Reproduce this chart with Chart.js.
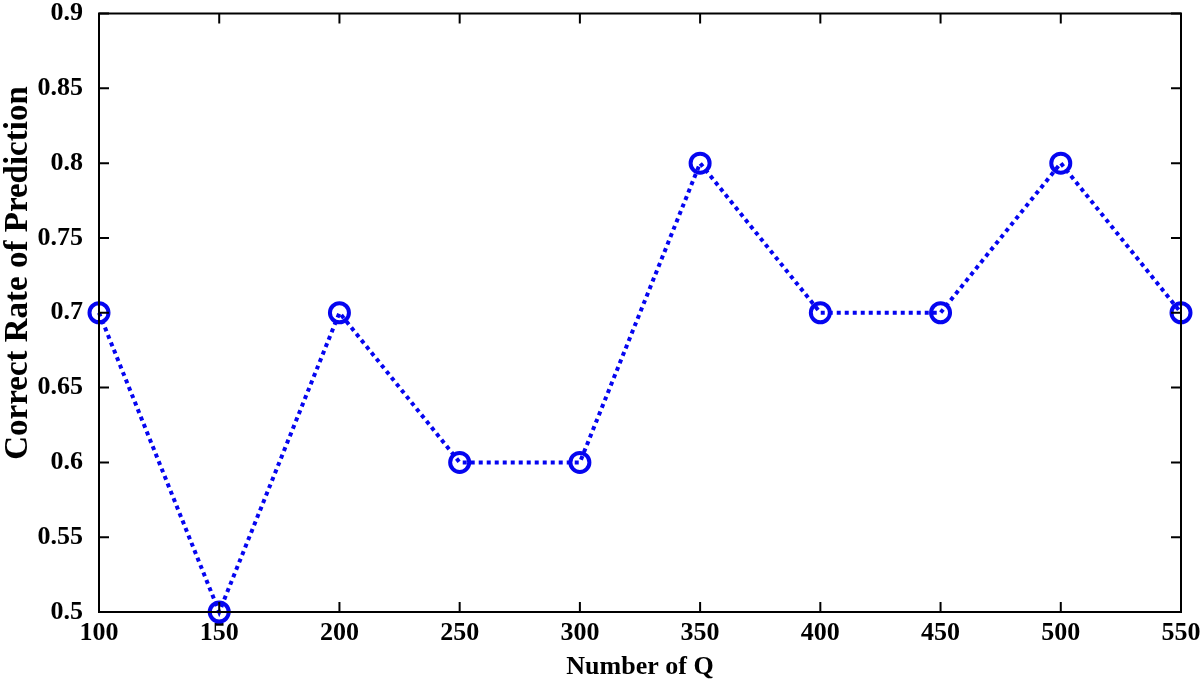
<!DOCTYPE html>
<html lang="en">
<head>
    <meta charset="UTF-8">
    <title>Correct Rate of Prediction</title>
    <style>
        html, body { margin: 0; padding: 0; background: #fff; }
        .chart-container { width: 1200px; height: 680px; }
    </style>
</head>
<body>
    <div class="chart-container">
        <canvas id="rateChart"></canvas>
    </div>

    <script src="https://cdn.jsdelivr.net/npm/chart.js"></script>
    <script>
        // values
        const numberOfQ = [100, 150, 200, 250, 300, 350, 400, 450, 500, 550];
        const correctRate = [0.7, 0.5, 0.7, 0.6, 0.6, 0.8, 0.7, 0.7, 0.8, 0.7];
        const xTicks = [100, 150, 200, 250, 300, 350, 400, 450, 500, 550];
        const yTicks = [0.5, 0.55, 0.6, 0.65, 0.7, 0.75, 0.8, 0.85, 0.9];
        const yTitle = 'Correct Rate of Prediction';

        const family = "'Liberation Serif', 'Times New Roman', serif";
        const tickFont = { family: family, weight: 'bold', size: 26 };
        const blue = 'rgb(5, 5, 240)';

        // matlab style box with inward ticks on all four sides, plus the y title
        // (drawn by hand because it sits a bit above the middle of the axis)
        const boxPlugin = {
            id: 'box',
            afterDraw(chart) {
                const { ctx, chartArea: a, scales } = chart;
                const len = 10;
                ctx.save();
                ctx.strokeStyle = '#000';
                ctx.lineWidth = 2;
                ctx.strokeRect(a.left, a.top, a.right - a.left, a.bottom - a.top);
                ctx.beginPath();
                xTicks.forEach(v => {
                    const x = scales.x.getPixelForValue(v);
                    ctx.moveTo(x, a.bottom); ctx.lineTo(x, a.bottom - len);
                    ctx.moveTo(x, a.top); ctx.lineTo(x, a.top + len);
                });
                yTicks.forEach(v => {
                    const y = scales.y.getPixelForValue(v);
                    ctx.moveTo(a.left, y); ctx.lineTo(a.left + len, y);
                    ctx.moveTo(a.right, y); ctx.lineTo(a.right - len, y);
                });
                ctx.stroke();

                ctx.translate(27, 273);
                ctx.rotate(-Math.PI / 2);
                ctx.fillStyle = '#000';
                ctx.font = 'bold 33px ' + family;
                ctx.textAlign = 'center';
                ctx.textBaseline = 'alphabetic';
                ctx.fillText(yTitle, 0, 0);
                ctx.restore();
            }
        };

        const ctx = document.getElementById('rateChart').getContext('2d');
        new Chart(ctx, {
            type: 'line',
            data: {
                datasets: [{
                    data: numberOfQ.map((q, i) => ({ x: q, y: correctRate[i] })),
                    borderColor: blue,
                    borderWidth: 4,
                    borderDash: [4, 4],
                    pointRadius: 9.5,
                    pointBorderWidth: 4,
                    pointBorderColor: blue,
                    pointBackgroundColor: 'rgba(0,0,0,0)',
                    fill: false,
                    tension: 0,
                    clip: false
                }]
            },
            options: {
                responsive: true,
                maintainAspectRatio: false,
                animation: false,
                layout: { padding: { top: 12, right: 19, left: 0, bottom: 0 } },
                plugins: { legend: { display: false }, tooltip: { enabled: false } },
                scales: {
                    x: {
                        type: 'linear',
                        min: 100,
                        max: 550,
                        afterBuildTicks: s => { s.ticks = xTicks.map(v => ({ value: v })); },
                        afterFit: s => { s.height = 68; s.paddingLeft = 0; s.paddingRight = 0; },
                        grid: { display: false, drawTicks: false },
                        border: { display: false },
                        ticks: { color: '#000', font: tickFont, padding: 6, maxRotation: 0 },
                        title: { display: true, text: 'Number of Q', color: '#000', font: { family: family, weight: 'bold', size: 26, lineHeight: 1 }, padding: { top: 2, bottom: 0 } }
                    },
                    y: {
                        min: 0.5,
                        max: 0.9,
                        afterBuildTicks: s => { s.ticks = yTicks.map(v => ({ value: v })); },
                        afterFit: s => { s.width = 99; s.paddingTop = 0; s.paddingBottom = 0; },
                        grid: { display: false, drawTicks: false },
                        border: { display: false },
                        ticks: { color: '#000', font: tickFont, padding: 16, callback: v => String(v) },
                        title: { display: false }
                    }
                }
            },
            plugins: [boxPlugin]
        });
    </script>
</body>
</html>
